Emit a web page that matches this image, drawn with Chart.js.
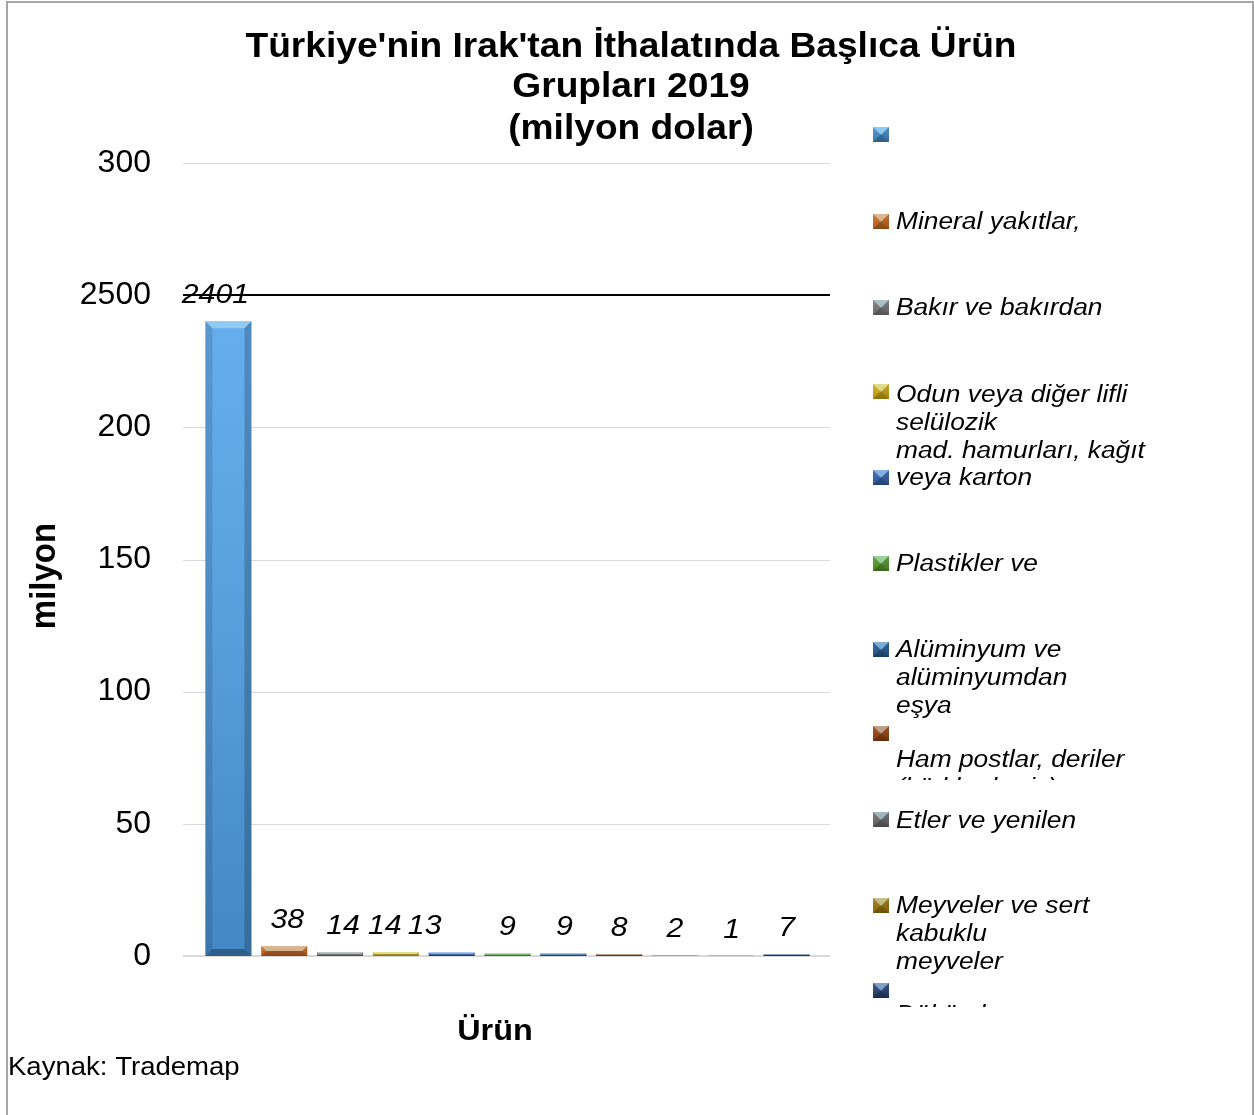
<!DOCTYPE html>
<html>
<head>
<meta charset="utf-8">
<script src="https://cdn.jsdelivr.net/npm/chart.js@4.4.1/dist/chart.umd.min.js"></script>
<style>
html, body { margin: 0; padding: 0; background: #fff; }
canvas { display: block; }
</style>
</head>
<body>
<canvas id="importChart" width="1254" height="1115"></canvas>
<script>
// values in million USD, one bar per product group
const values = [2401, 38, 14, 14, 13, 9, 9, 8, 2, 1, 7];
const valueLabels = ['2401', '38', '14', '14', '13', '9', '9', '8', '2', '1', '7'];
const yTickLabels = ['0', '50', '100', '150', '200', '2500', '300'];
const legendLines = [
    [],
    ['Mineral yakıtlar,'],
    ['Bakır ve bakırdan'],
    ['Odun veya diğer lifli', 'selülozik', 'mad. hamurları, kağıt'],
    ['veya karton'],
    ['Plastikler ve'],
    ['Alüminyum ve', 'alüminyumdan', 'eşya'],
    ['', 'Ham postlar, deriler', '(kürkler hariç)'],
    ['Etler ve yenilen'],
    ['Meyveler ve sert', 'kabuklu', 'meyveler'],
    ['', 'Dökümler']
];
const categories = legendLines.map(l => l.filter(Boolean).join(' '));
const barColors = ['#50a2ea', '#ec7a22', '#8c8c8c', '#f2c614', '#3a70cc', '#62b232',
                   '#2a69ad', '#b34c12', '#7c7c7c', '#b8890e', '#2a4c88'];

const titleLines = ["Türkiye'nin Irak'tan İthalatında Başlıca Ürün", 'Grupları 2019', '(milyon dolar)'];
const yTitle = 'milyon';
const xTitle = 'Ürün';
const sourceText = 'Kaynak: Trademap';

// layout (pixels)
const FONT = '"Liberation Sans", Arial, sans-serif';
const SX = 1.08; // the picture is stretched sideways a little
const gridLeft = 183, gridRight = 830;
const labelDx = [-13, 3, 3, -11, -27, 0, 1, 0, 0, 1, 0];
const legendMarkerTop = [127, 214, 300, 384, 470, 556, 642, 726, 812, 898, 983];
const legendBaseline = [0, 229, 315, 402, 485, 571, 657, 739, 828, 913, 994];
const legendClip = [null, null, null, null, 491, null, null, 780, null, null, 1007];

function drawText(ctx, text, x, y, font, align, baseline, rotate) {
    ctx.save();
    ctx.translate(x, y);
    ctx.scale(SX, 1);
    if (rotate) ctx.rotate(rotate);
    ctx.font = font;
    ctx.fillStyle = '#000';
    ctx.textAlign = align || 'center';
    ctx.textBaseline = baseline || 'middle';
    ctx.fillText(text, 0, 0);
    ctx.restore();
}

function poly(ctx, pts, fill) {
    ctx.beginPath();
    ctx.moveTo(pts[0][0], pts[0][1]);
    for (let i = 1; i < pts.length; i++) ctx.lineTo(pts[i][0], pts[i][1]);
    ctx.closePath();
    ctx.fillStyle = fill;
    ctx.fill();
}

// 3d-ish bevel on top of a filled box
function bevel(ctx, left, top, w, h, depth) {
    if (h <= 0) return;
    const right = left + w, bottom = top + h;
    const b = Math.min(depth, h / 2, w / 2);
    const g = ctx.createLinearGradient(0, top, 0, bottom);
    g.addColorStop(0, 'rgba(255,255,255,0.12)');
    g.addColorStop(1, 'rgba(0,0,0,0.16)');
    ctx.fillStyle = g;
    ctx.fillRect(left, top, w, h);
    poly(ctx, [[left, top], [right, top], [right - b, top + b], [left + b, top + b]], 'rgba(200,240,255,0.45)');
    poly(ctx, [[left, top], [left + b, top + b], [left + b, bottom - b], [left, bottom]], 'rgba(0,0,0,0.12)');
    poly(ctx, [[right, top], [right - b, top + b], [right - b, bottom - b], [right, bottom]], 'rgba(0,0,0,0.2)');
    poly(ctx, [[left, bottom], [left + b, bottom - b], [right - b, bottom - b], [right, bottom]], 'rgba(0,0,0,0.3)');
}

const decor = {
    id: 'decor',
    beforeDraw(chart) {
        const ctx = chart.ctx;
        ctx.save();
        ctx.fillStyle = '#fff';
        ctx.fillRect(0, 0, chart.width, chart.height);
        ctx.strokeStyle = '#a6a6a6';
        ctx.lineWidth = 2;
        ctx.strokeRect(7, 2, 1246, 1200);
        ctx.restore();
    },
    beforeDatasetsDraw(chart) {
        const ctx = chart.ctx;
        const y = chart.scales.y;
        ctx.save();
        y.ticks.forEach((t, i) => {
            const py = Math.round(y.getPixelForValue(t.value));
            const special = yTickLabels[i] === '2500';
            ctx.strokeStyle = special ? '#000' : '#d9d9d9';
            ctx.lineWidth = special || i === 0 ? 2 : 1;
            const off = ctx.lineWidth === 1 ? 0.5 : 0;
            ctx.beginPath();
            ctx.moveTo(gridLeft, py + off);
            ctx.lineTo(gridRight, py + off);
            ctx.stroke();
        });
        ctx.restore();
    },
    afterDatasetsDraw(chart) {
        const ctx = chart.ctx;
        const meta = chart.getDatasetMeta(0);
        ctx.save();
        meta.data.forEach((el, i) => {
            const p = el.getProps(['x', 'y', 'width', 'base'], true);
            const top = Math.min(p.y, p.base), h = Math.abs(p.base - p.y);
            bevel(ctx, p.x - p.width / 2, top, p.width, h, 7);
            drawText(ctx, valueLabels[i], p.x + labelDx[i], p.y - 26, 'italic 28px ' + FONT);
        });
        ctx.restore();
    },
    afterDraw(chart) {
        const ctx = chart.ctx;
        titleLines.forEach((t, i) => drawText(ctx, t, 631, [48, 88, 130][i], 'bold 34.4px ' + FONT));
        drawText(ctx, yTitle, 45, 576, 'bold 33px ' + FONT, 'center', 'middle', -Math.PI / 2);
        drawText(ctx, xTitle, 495, 1032, 'bold 30px ' + FONT);
        drawText(ctx, sourceText, 8, 1068, '25.5px ' + FONT, 'left');

        // legend
        legendLines.forEach((lines, i) => {
            ctx.save();
            ctx.fillStyle = barColors[i];
            ctx.fillRect(873, legendMarkerTop[i], 16, 15);
            bevel(ctx, 873, legendMarkerTop[i], 16, 15, 8);
            if (legendClip[i] !== null) {
                ctx.beginPath();
                ctx.rect(860, 0, 394, legendClip[i]);
                ctx.clip();
            }
            lines.forEach((line, j) => {
                if (line) drawText(ctx, line, 896, legendBaseline[i] + j * 28, 'italic 24.4px ' + FONT, 'left', 'alphabetic');
            });
            ctx.restore();
        });
    }
};

new Chart(document.getElementById('importChart'), {
    type: 'bar',
    data: {
        labels: categories,
        datasets: [{
            data: values,
            backgroundColor: barColors,
            borderWidth: 0,
            categoryPercentage: 1,
            barPercentage: 0.825
        }]
    },
    options: {
        responsive: false,
        animation: false,
        layout: { padding: { top: 163, left: 15, right: 439.5, bottom: 159 } },
        plugins: {
            legend: { display: false },
            tooltip: { enabled: false }
        },
        scales: {
            x: { display: false },
            y: {
                min: 0,
                max: 3000,
                afterFit: scale => { scale.width = 185.5; },
                grid: { display: false },
                border: { display: false },
                ticks: {
                    stepSize: 500,
                    padding: 41.5,
                    color: '#000',
                    font: { family: FONT, size: 32 },
                    callback: (v, i) => yTickLabels[i]
                }
            }
        }
    },
    plugins: [decor]
});
</script>
</body>
</html>
